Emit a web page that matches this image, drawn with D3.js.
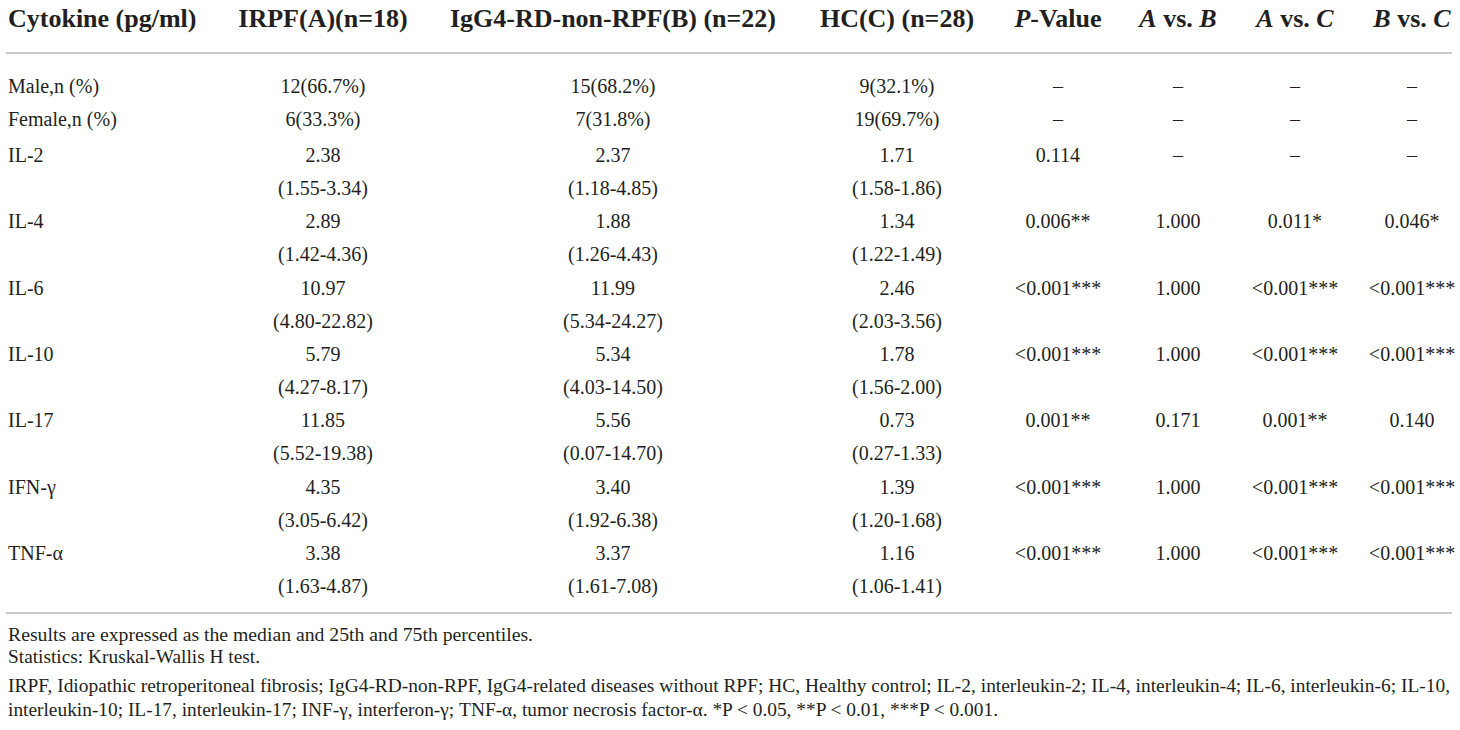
<!DOCTYPE html>
<html>
<head>
<meta charset="utf-8">
<script src="https://cdn.jsdelivr.net/npm/d3@7/dist/d3.min.js"></script>
<style>
  html, body { margin: 0; padding: 0; background: #fff; }
  svg { display: block; }
  text { font-family: "Liberation Serif", "Times New Roman", serif; fill: #231f20; }
</style>
</head>
<body>
<svg id="chart" width="1460" height="730"></svg>
<script>
// ---------- DATA ----------
const columnKeys = ["cyto", "A", "B", "C", "p", "ab", "ac", "bc"];
const sexLabels = ["Male,n (%)", "Female,n (%)"];
const sexA = ["12(66.7%)", "6(33.3%)"];
const sexB = ["15(68.2%)", "7(31.8%)"];
const sexC = ["9(32.1%)", "19(69.7%)"];

const cytokines = ["IL-2", "IL-4", "IL-6", "IL-10", "IL-17", "IFN-γ", "TNF-α"];
const medianA = ["2.38", "2.89", "10.97", "5.79", "11.85", "4.35", "3.38"];
const iqrA = ["(1.55-3.34)", "(1.42-4.36)", "(4.80-22.82)", "(4.27-8.17)", "(5.52-19.38)", "(3.05-6.42)", "(1.63-4.87)"];
const medianB = ["2.37", "1.88", "11.99", "5.34", "5.56", "3.40", "3.37"];
const iqrB = ["(1.18-4.85)", "(1.26-4.43)", "(5.34-24.27)", "(4.03-14.50)", "(0.07-14.70)", "(1.92-6.38)", "(1.61-7.08)"];
const medianC = ["1.71", "1.34", "2.46", "1.78", "0.73", "1.39", "1.16"];
const iqrC = ["(1.58-1.86)", "(1.22-1.49)", "(2.03-3.56)", "(1.56-2.00)", "(0.27-1.33)", "(1.20-1.68)", "(1.06-1.41)"];
const pValue = ["0.114", "0.006**", "<0.001***", "<0.001***", "0.001**", "<0.001***", "<0.001***"];
const pAB = ["–", "1.000", "1.000", "1.000", "0.171", "1.000", "1.000"];
const pAC = ["–", "0.011*", "<0.001***", "<0.001***", "0.001**", "<0.001***", "<0.001***"];
const pBC = ["–", "0.046*", "<0.001***", "<0.001***", "0.140", "<0.001***", "<0.001***"];

const footnotes = [
  "Results are expressed as the median and 25th and 75th percentiles.",
  "Statistics: Kruskal-Wallis H test.",
  "IRPF, Idiopathic retroperitoneal fibrosis; IgG4-RD-non-RPF, IgG4-related diseases without RPF; HC, Healthy control; IL-2, interleukin-2; IL-4, interleukin-4; IL-6, interleukin-6; IL-10,",
  "interleukin-10; IL-17, interleukin-17; INF-γ, interferon-γ; TNF-α, tumor necrosis factor-α. *P < 0.05, **P < 0.01, ***P < 0.001."
];

// ---------- LAYOUT ----------
const svg = d3.select("#chart");
const left = 8, right = 1452;

const colX = d3.scaleOrdinal()
  .domain(columnKeys)
  .range([left, 323, 613, 897, 1058, 1178, 1295, 1412]);

// header
const header = svg.append("g").attr("font-weight", "bold").attr("font-size", 26);
const hBase = 27;
const headerParts = [
  { key: "cyto", parts: [["Cytokine (pg/ml)", "normal"]] },
  { key: "A", parts: [["IRPF(A)(n=18)", "normal"]] },
  { key: "B", parts: [["IgG4-RD-non-RPF(B) (n=22)", "normal"]] },
  { key: "C", parts: [["HC(C) (n=28)", "normal"]] },
  { key: "p", parts: [["P", "italic"], ["-Value", "normal"]] },
  { key: "ab", parts: [["A", "italic"], [" vs. ", "normal"], ["B", "italic"]] },
  { key: "ac", parts: [["A", "italic"], [" vs. ", "normal"], ["C", "italic"]] },
  { key: "bc", parts: [["B", "italic"], [" vs. ", "normal"], ["C", "italic"]] }
];
header.selectAll("text").data(headerParts).join("text")
  .attr("x", d => colX(d.key))
  .attr("y", hBase)
  .attr("text-anchor", d => d.key === "cyto" ? "start" : "middle")
  .each(function(d) {
    d3.select(this).selectAll("tspan").data(d.parts).join("tspan")
      .attr("font-style", p => p[1])
      .style("white-space", "pre")
      .text(p => p[0]);
  });

// rules
const rules = [53, 613];
svg.selectAll("line.rule").data(rules).join("line")
  .attr("class", "rule")
  .attr("x1", left - 2).attr("x2", right)
  .attr("y1", d => d).attr("y2", d => d)
  .attr("stroke", "#c9c9c9").attr("stroke-width", 2);

// body
const body = svg.append("g").attr("font-size", 20);

// sex rows
const ySex = d3.scaleLinear().domain([0, 1]).range([93, 126]);
sexLabels.forEach((lab, i) => {
  const cells = [
    ["cyto", lab], ["A", sexA[i]], ["B", sexB[i]], ["C", sexC[i]],
    ["p", "–"], ["ab", "–"], ["ac", "–"], ["bc", "–"]
  ];
  body.append("g").selectAll("text").data(cells).join("text")
    .attr("x", d => colX(d[0]))
    .attr("y", ySex(i))
    .attr("text-anchor", d => d[0] === "cyto" ? "start" : "middle")
    .text(d => d[1]);
});

// cytokine rows
const yRow = d3.scaleLinear().domain([0, cytokines.length - 1]).range([162, 560]);
const lineGap = 33;
cytokines.forEach((c, i) => {
  const y = yRow(i);
  const cells = [
    ["cyto", c, 0], ["A", medianA[i], 0], ["A", iqrA[i], 1],
    ["B", medianB[i], 0], ["B", iqrB[i], 1],
    ["C", medianC[i], 0], ["C", iqrC[i], 1],
    ["p", pValue[i], 0], ["ab", pAB[i], 0], ["ac", pAC[i], 0], ["bc", pBC[i], 0]
  ];
  body.append("g").selectAll("text").data(cells).join("text")
    .attr("x", d => colX(d[0]))
    .attr("y", d => y + d[2] * lineGap)
    .attr("text-anchor", d => d[0] === "cyto" ? "start" : "middle")
    .text(d => d[1]);
});

// footnotes
const footY = [641, 663, 692, 716];
const footEnd = [533, 260, 1450, 998];
svg.append("g").attr("font-size", 18)
  .selectAll("text").data(footnotes).join("text")
  .attr("x", left)
  .attr("y", (d, i) => footY[i])
  .attr("textLength", (d, i) => footEnd[i] - left)
  .attr("lengthAdjust", "spacingAndGlyphs")
  .text(d => d);
</script>
</body>
</html>
